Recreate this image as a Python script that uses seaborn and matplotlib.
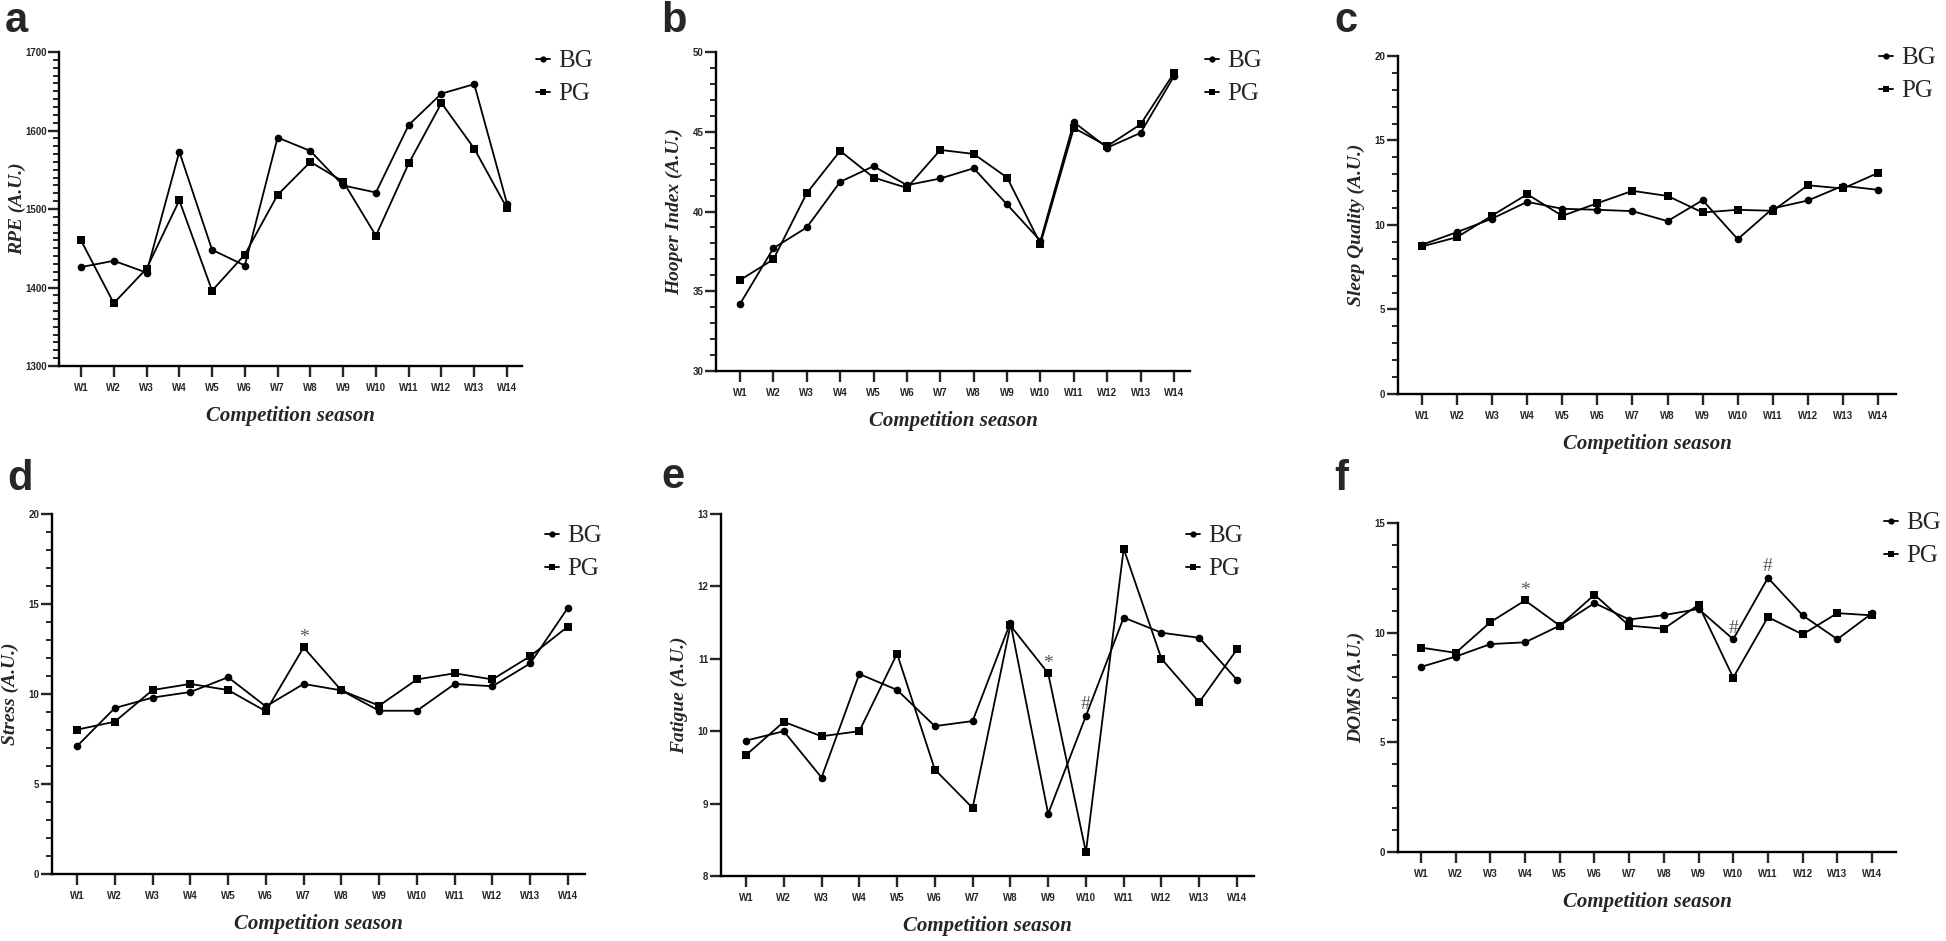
import matplotlib.pyplot as plt
import pandas as pd
import seaborn as sns
from matplotlib.ticker import MultipleLocator

WEEKS = [f"W{i}" for i in range(1, 15)]

RPE_BG = [1426, 1434, 1419, 1573, 1448, 1428, 1591, 1574, 1530, 1521, 1607, 1647, 1659, 1507]
RPE_PG = [1460, 1380, 1424, 1511, 1396, 1442, 1518, 1560, 1535, 1466, 1558, 1635, 1577, 1501]

HOOPER_BG = [34.2, 37.7, 39.0, 41.86, 42.84, 41.65, 42.07, 42.71, 40.44, 38.16, 45.6, 44.0, 44.93, 48.48]
HOOPER_PG = [35.7, 37.0, 41.15, 43.8, 42.13, 41.48, 43.86, 43.61, 42.13, 37.97, 45.24, 44.1, 45.47, 48.68]

SLEEP_BG = [8.83, 9.58, 10.38, 11.37, 10.96, 10.9, 10.82, 10.23, 11.47, 9.16, 10.98, 11.45, 12.32, 12.08]
SLEEP_PG = [8.73, 9.28, 10.56, 11.82, 10.54, 11.29, 12.02, 11.72, 10.74, 10.9, 10.84, 12.35, 12.16, 13.08]

STRESS_BG = [7.1, 9.22, 9.8, 10.11, 10.93, 9.31, 10.56, 10.2, 9.07, 9.07, 10.56, 10.43, 11.7, 14.8]
STRESS_PG = [8.02, 8.46, 10.22, 10.56, 10.22, 9.04, 12.59, 10.2, 9.35, 10.81, 11.15, 10.81, 12.1, 13.75]

FATIGUE_BG = [9.87, 10.0, 9.36, 10.79, 10.57, 10.07, 10.14, 11.5, 8.86, 10.21, 11.57, 11.36, 11.29, 10.71]
FATIGUE_PG = [9.67, 10.13, 9.93, 10.0, 11.07, 9.47, 8.94, 11.46, 10.8, 8.33, 12.52, 11.0, 10.4, 11.13]

DOMS_BG = [8.44, 8.91, 9.48, 9.56, 10.32, 11.35, 10.6, 10.8, 11.08, 9.7, 12.5, 10.79, 9.7, 10.88]
DOMS_PG = [9.32, 9.08, 10.48, 11.47, 10.32, 11.73, 10.32, 10.18, 11.27, 7.95, 10.71, 9.92, 10.89, 10.79]

# panel letter, y label, BG, PG, y range, major step, minor step
PANELS = [
    ("a", "RPE (A.U.)", RPE_BG, RPE_PG, (1300, 1700), 100, 10),
    ("b", "Hooper Index (A.U.)", HOOPER_BG, HOOPER_PG, (30, 50), 5, 1),
    ("c", "Sleep Quality (A.U.)", SLEEP_BG, SLEEP_PG, (0, 20), 5, 1),
    ("d", "Stress (A.U.)", STRESS_BG, STRESS_PG, (0, 20), 5, 1),
    ("e", "Fatigue (A.U.)", FATIGUE_BG, FATIGUE_PG, (8, 13), 1, None),
    ("f", "DOMS (A.U.)", DOMS_BG, DOMS_PG, (0, 15), 5, 1),
]

# (panel, group, week index, mark)
MARKS = [
    ("d", "PG", 6, "*"),
    ("e", "PG", 8, "*"),
    ("e", "BG", 9, "#"),
    ("f", "PG", 3, "*"),
    ("f", "BG", 9, "#"),
    ("f", "BG", 10, "#"),
]

# layout in pixels: y-spine x, top y, bottom y, W1 x, W14 x, x-axis end
BOXES = {
    "a": (59, 52, 366, 81, 507, 522),
    "b": (716, 52, 371, 740, 1174, 1190),
    "c": (1398, 56, 394, 1422, 1878, 1896),
    "d": (52, 514, 874, 77, 568, 585),
    "e": (721, 514, 876, 746, 1237, 1254),
    "f": (1398, 523, 852, 1421, 1872, 1896),
}
# legend: marker x, first entry y, second entry y
LEGENDS = {
    "a": (543, 60, 95),
    "b": (1212, 60, 95),
    "c": (1886, 58, 91),
    "d": (552, 535, 570),
    "e": (1193, 535, 570),
    "f": (1891, 522, 557),
}
LETTERS = {"a": (5, 32), "b": (661, 32), "c": (1334, 32),
           "d": (7, 490), "e": (661, 488), "f": (1334, 490)}

W, H = 1946, 941
SERIF = ["Liberation Serif", "DejaVu Serif"]
SANS = ["Liberation Sans", "DejaVu Sans"]

sns.set_theme(style="ticks")
plt.rcParams["font.family"] = SANS

fig = plt.figure(figsize=(W / 100, H / 100), dpi=100)

for letter, ylabel, bg, pg, ylim, major, minor in PANELS:
    l, t, b, x0, x13, r = BOXES[letter]
    ax = fig.add_axes([l / W, 1 - b / H, (r - l) / W, (b - t) / H])
    step = (x13 - x0) / 13

    df = pd.DataFrame({
        "week": list(range(len(WEEKS))) * 2,
        "value": bg + pg,
        "group": ["BG"] * len(bg) + ["PG"] * len(pg),
    })
    sns.lineplot(data=df, x="week", y="value", style="group",
                 markers={"BG": "o", "PG": "s"}, dashes=False,
                 color="black", markersize=5.5, markeredgewidth=0,
                 linewidth=1.3, ax=ax, legend=True)

    for p, g, i, sym in MARKS:
        if p != letter:
            continue
        val = (bg if g == "BG" else pg)[i]
        ax.annotate(sym, (i, val), xytext=(0, 7 if sym == "*" else 8),
                    textcoords="offset points", ha="center", va="center",
                    fontsize=14, color="#555555", family=SERIF)

    ax.set_xlim((l - x0) / step, 13 + (r - x13) / step)
    ax.set_ylim(*ylim)
    ax.set_xticks(range(len(WEEKS)))
    ax.set_xticklabels(WEEKS)
    ax.yaxis.set_major_locator(MultipleLocator(major))
    if minor:
        ax.yaxis.set_minor_locator(MultipleLocator(minor))
    ax.tick_params(axis="x", length=8, width=1.7, pad=4, labelsize=7)
    ax.tick_params(axis="y", which="major", length=8, width=1.7, pad=1, labelsize=7)
    ax.tick_params(axis="y", which="minor", length=4.5, width=1.4)
    for lab in ax.get_xticklabels() + ax.get_yticklabels():
        lab.set_fontweight("bold")
    for s in ("top", "right"):
        ax.spines[s].set_visible(False)
    for s in ("left", "bottom"):
        ax.spines[s].set_linewidth(1.7)
        ax.spines[s].set_color("black")

    ax.set_ylabel(ylabel, family=SERIF, fontsize=14, fontweight="bold",
                  fontstyle="italic", va="center")
    ax.yaxis.set_label_coords(-42 / (r - l), 0.5)
    ax.set_xlabel("Competition season", family=SERIF, fontsize=15,
                  fontweight="bold", fontstyle="italic", va="center")
    ax.xaxis.set_label_coords(0.5, -50 / (b - t))

    handles, labels = ax.get_legend_handles_labels()
    mx, y1, y2 = LEGENDS[letter]
    leg = ax.legend(handles, labels, loc="center left",
                    bbox_to_anchor=((mx - 7) / W, 1 - (y1 + y2) / 2 / H),
                    bbox_transform=fig.transFigure, frameon=False,
                    borderpad=0, borderaxespad=0, handlelength=0.55,
                    handletextpad=0.35, labelspacing=0.42,
                    prop={"family": SERIF, "size": 18})
    for h in leg.legend_handles:
        h.set_markersize(4.5)
        h.set_linewidth(1.3)

    lx, ly = LETTERS[letter]
    fig.text(lx / W, 1 - ly / H, letter, fontsize=30, fontweight="bold",
             family=SANS, va="baseline", ha="left")

fig.savefig("out.png", dpi=100)
